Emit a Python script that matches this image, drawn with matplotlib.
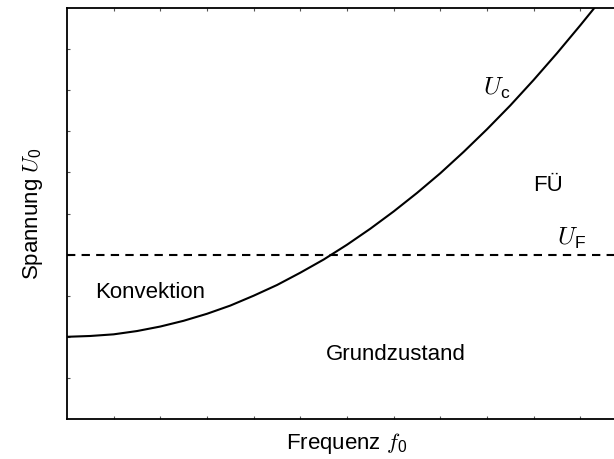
import matplotlib
matplotlib.use("Agg")
import matplotlib.pyplot as plt

plt.rcParams['font.family'] = ['Liberation Sans', 'DejaVu Sans']
plt.rcParams['mathtext.fontset'] = 'custom'
plt.rcParams['mathtext.rm'] = 'Liberation Sans'
plt.rcParams['mathtext.it'] = 'cmmi10'

# critical voltage curve U_c
freq = [0.0, 0.5, 1.0, 1.5, 2.0, 2.5, 3.0, 3.5, 4.0, 4.5, 5.0, 5.5,
        6.0, 6.5, 7.0, 7.5, 8.0, 8.5, 9.0, 9.5, 10.0, 10.5, 11.0, 11.5]
u_crit = [2.00, 2.02, 2.06, 2.14, 2.25, 2.39, 2.56, 2.76, 3.00, 3.26, 3.56, 3.88,
          4.24, 4.63, 5.05, 5.50, 5.98, 6.50, 7.05, 7.63, 8.25, 8.90, 9.58, 10.28]
u_fl = 4.0  # threshold U_F

region_labels = ["Konvektion", "Grundzustand", "FÜ"]
region_x = [1.78, 7.04, 10.3]
region_y = [3.07, 1.56, 5.69]

fig = plt.figure(figsize=(6.14, 4.59), dpi=100)
ax = fig.add_axes([67 / 614, 40 / 459, 560 / 614, 411 / 459])

ax.plot(freq, u_crit, color="black", linewidth=1.5)
ax.axhline(u_fl, color="black", linewidth=1.5, dashes=(4, 3))

for txt, x, y in zip(region_labels, region_x, region_y):
    ax.text(x, y, txt, fontsize=16, ha="center", va="center")

ax.text(9.21, 8.05, r"$U_\mathrm{c}$", fontsize=18, ha="center", va="center")
ax.text(10.8, 4.4, r"$U_\mathrm{F}$", fontsize=18, ha="center", va="center")

ax.set_xlim(0, 12)
ax.set_ylim(0, 10)
ax.set_xticks(range(1, 12))
ax.set_yticks(range(1, 10))
ax.tick_params(direction="in", length=2.5, width=0.8, color="#555555",
               top=True, right=True, labelbottom=False, labelleft=False)
for sp in ax.spines.values():
    sp.set_linewidth(1.3)

ax.set_xlabel(r"Frequenz $f_0$", fontsize=16, labelpad=9)
ax.set_ylabel(r"Spannung $U_0$", fontsize=16, labelpad=16)

fig.savefig("out.png", dpi=100)
